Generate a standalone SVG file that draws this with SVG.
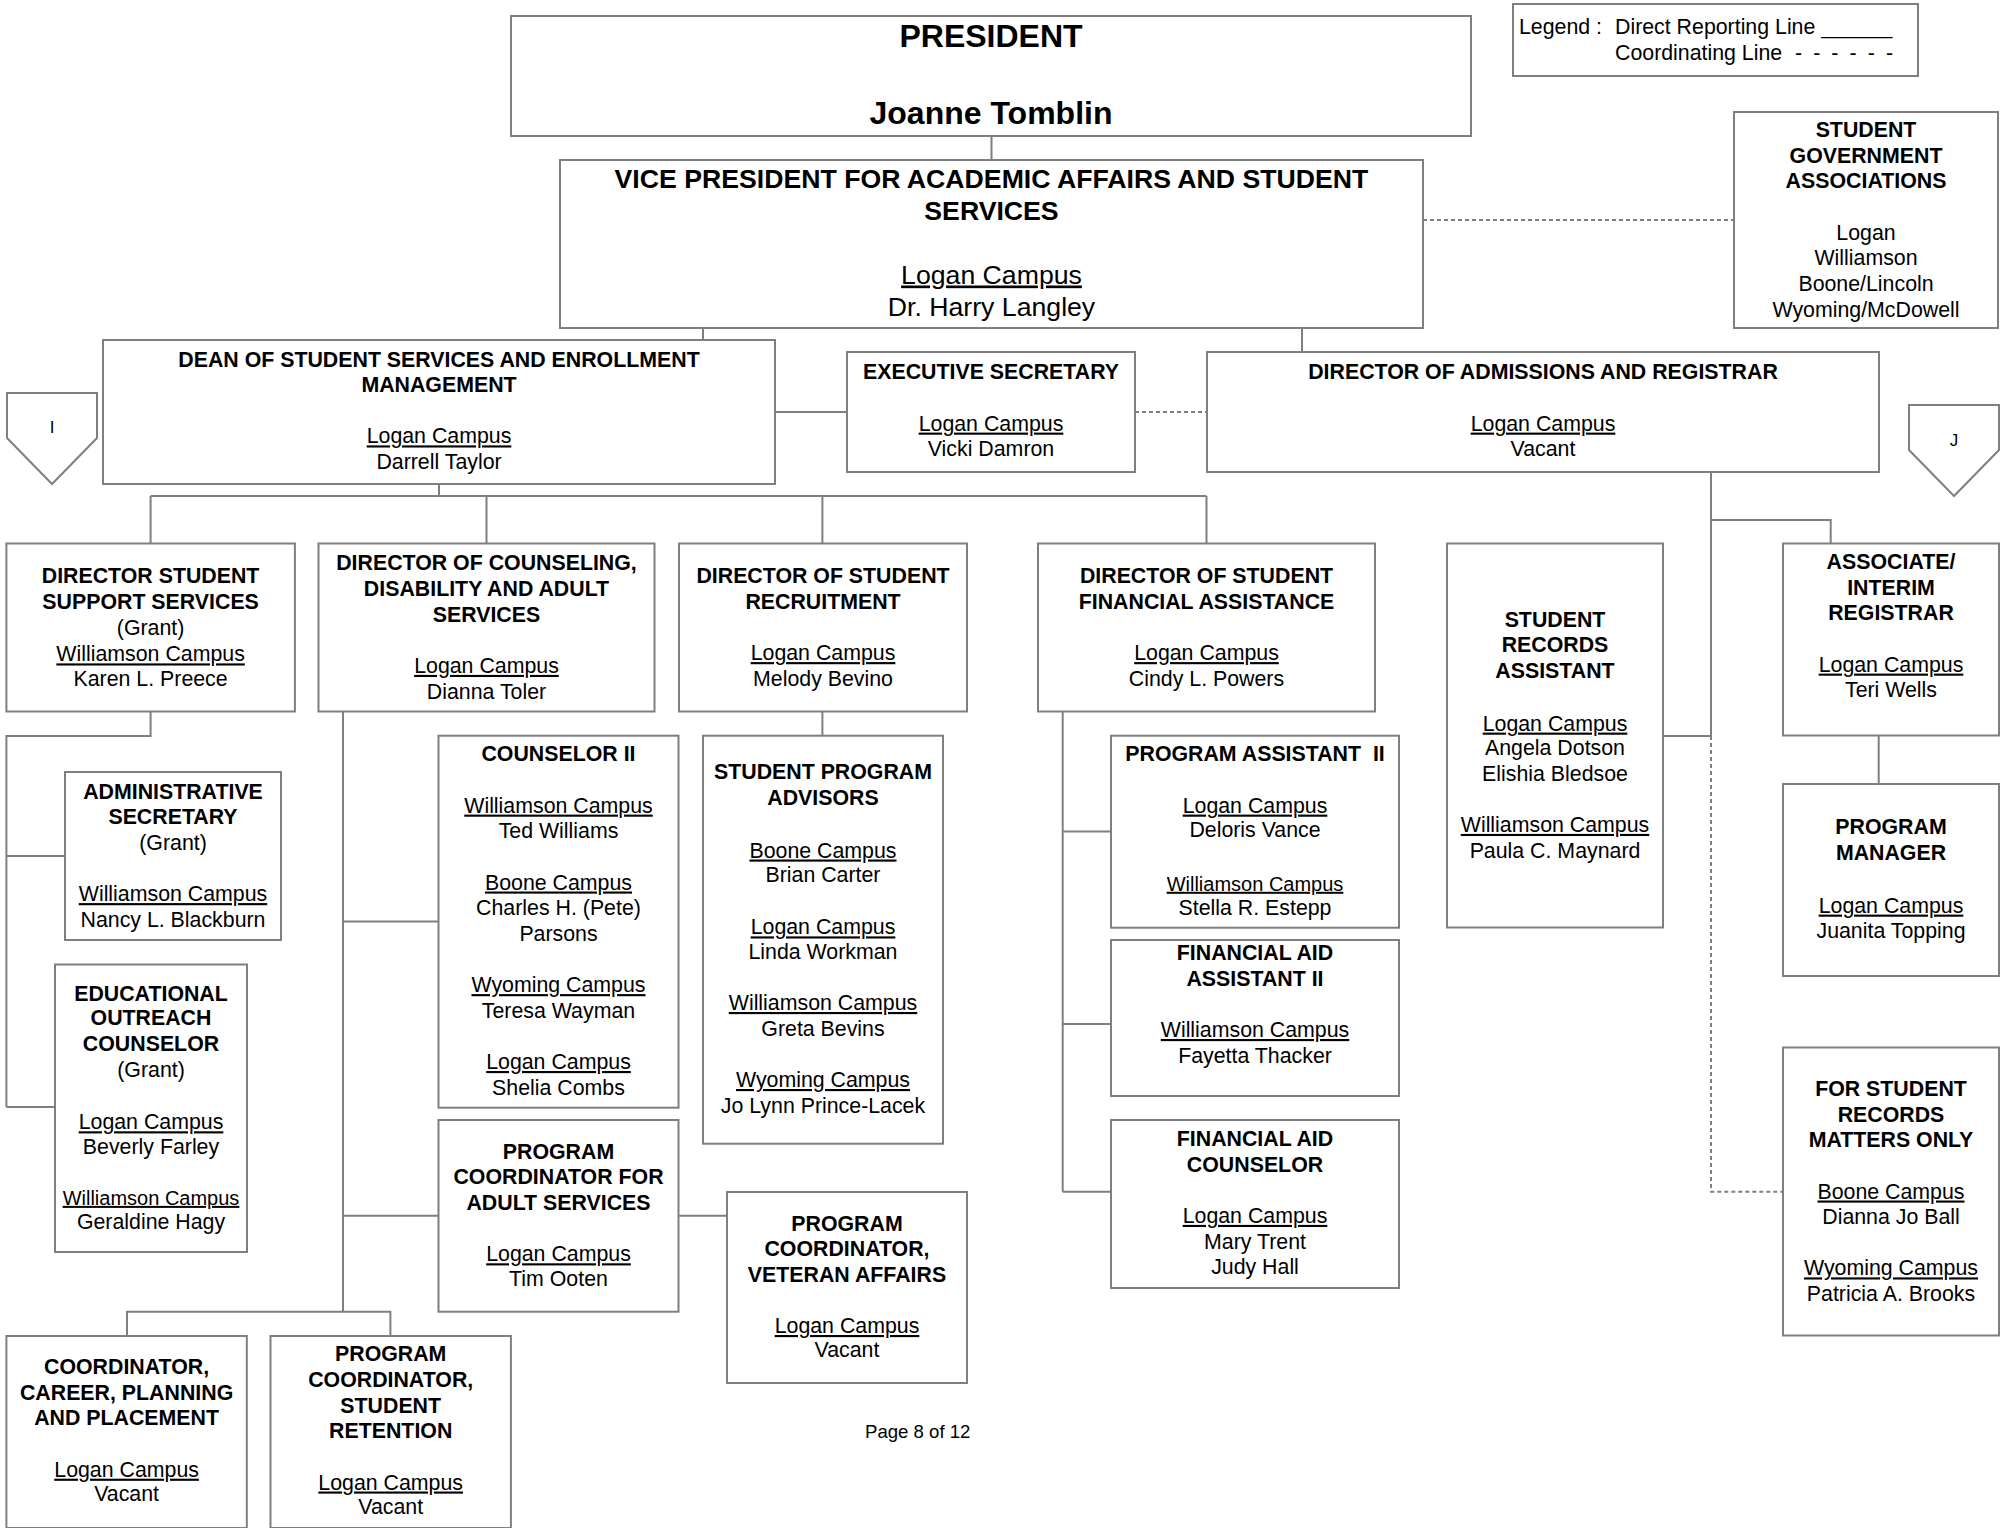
<svg xmlns="http://www.w3.org/2000/svg" width="2010" height="1528" viewBox="0 0 2010 1528">
<style>
.bx{fill:#fff;stroke:#7f7f7f;stroke-width:2}
.t{font-family:"Liberation Sans",Arial,sans-serif;font-size:21.33px;text-anchor:middle;fill:#000}
.h{font-weight:bold}
.u{text-decoration:underline}
.s{font-size:20px}
.c{stroke:#7f7f7f;stroke-width:2;fill:none}
.d{stroke-dasharray:4 3}
</style>
<rect width="2010" height="1528" fill="#fff"/>
<g id="connectors">
<path class="c" d="M991.5,136V160M703,328V340M1302,328V352M775,412H847M439,484V496M150.6,496H1206.5M150.6,496V543.5M486.5,496V543.5M822.4,496V543.5M1206.5,496V543.5"/>
<path class="c d" d="M1423,220H1734M1135,412H1207"/>
<path class="c" d="M150.6,711.5V736H6.4V1107M6.4,856H65M6.4,1107H55"/>
<path class="c" d="M343,711.5V1311.7M343,921.4H438.5M343,1215.7H438.5M127,1336V1311.7H390.4V1336M678.5,1215.7H727"/>
<path class="c" d="M822.4,711.5V735.7"/>
<path class="c" d="M1062.7,711.5V1191.7M1062.7,831.4H1111M1062.7,1024H1111M1062.7,1191.7H1111"/>
<path class="c" d="M1711,472V736M1711,520H1830.7V543.5M1663,736H1711M1878.7,735.5V784"/>
<path class="c d" d="M1711,736V1191.7H1783"/>
</g>
<g id="legend">
<rect class="bx" x="1513" y="4" width="405" height="72"/>
<text class="t" style="text-anchor:start" x="1519" y="34">Legend :</text>
<text class="t" style="text-anchor:start" x="1615" y="34">Direct Reporting Line ______</text>
<text class="t" style="text-anchor:start" x="1615" y="59.5">Coordinating Line</text>
<text class="t" style="text-anchor:start" x="1795" y="59.5" textLength="98" lengthAdjust="spacing">- - - - - -</text>
</g>
<g id="president">
<rect class="bx" x="511" y="16" width="960" height="120"/>
<text class="t h" style="font-size:32px" x="991" y="47.4">PRESIDENT</text>
<text class="t h" style="font-size:32px" x="991" y="124">Joanne Tomblin</text>
</g>
<g id="vice-president">
<rect class="bx" x="560" y="160" width="863" height="168"/>
<text class="t h" style="font-size:26.67px" x="991.5" y="187.7">VICE PRESIDENT FOR ACADEMIC AFFAIRS AND STUDENT</text>
<text class="t h" style="font-size:26.67px" x="991.5" y="219.7">SERVICES</text>
<text class="t u" style="font-size:26.67px" x="991.5" y="283.5">Logan Campus</text>
<text class="t" style="font-size:26.67px" x="991.5" y="315.5">Dr. Harry Langley</text>
</g>
<g id="student-government">
<rect class="bx" x="1734" y="112" width="264" height="216"/>
<text class="t h" x="1866" y="137.1">STUDENT</text>
<text class="t h" x="1866" y="162.7">GOVERNMENT</text>
<text class="t h" x="1866" y="188.4">ASSOCIATIONS</text>
<text class="t" x="1866" y="239.6">Logan</text>
<text class="t" x="1866" y="265.3">Williamson</text>
<text class="t" x="1866" y="290.9">Boone/Lincoln</text>
<text class="t" x="1866" y="316.5">Wyoming/McDowell</text>
</g>
<g id="dean">
<rect class="bx" x="103" y="340" width="672" height="144"/>
<text class="t h" x="439" y="366.6">DEAN OF STUDENT SERVICES AND ENROLLMENT</text>
<text class="t h" x="439" y="392.2">MANAGEMENT</text>
<text class="t u" x="439" y="443.4">Logan Campus</text>
<text class="t" x="439" y="469.1">Darrell Taylor</text>
</g>
<g id="executive-secretary">
<rect class="bx" x="847" y="352" width="288" height="120"/>
<text class="t h" x="991" y="379.4">EXECUTIVE SECRETARY</text>
<text class="t u" x="991" y="430.6">Logan Campus</text>
<text class="t" x="991" y="456.3">Vicki Damron</text>
</g>
<g id="director-admissions">
<rect class="bx" x="1207" y="352" width="672" height="120"/>
<text class="t h" x="1543" y="379.4">DIRECTOR OF ADMISSIONS AND REGISTRAR</text>
<text class="t u" x="1543" y="430.6">Logan Campus</text>
<text class="t" x="1543" y="456.3">Vacant</text>
</g>
<g id="connector-I">
<polygon class="bx" points="7,393 97,393 97,438 52,484 7,438"/>
<text class="t" style="font-size:17px" x="52" y="433">I</text>
</g>
<g id="connector-J">
<polygon class="bx" points="1909,405 1999,405 1999,450 1954,496 1909,450"/>
<text class="t" style="font-size:17px" x="1954" y="446">J</text>
</g>
<g id="director-student-support">
<rect class="bx" x="6.4" y="543.5" width="288.5" height="168"/>
<text class="t h" x="150.6" y="583.2">DIRECTOR STUDENT</text>
<text class="t h" x="150.6" y="608.8">SUPPORT SERVICES</text>
<text class="t" x="150.6" y="634.5">(Grant)</text>
<text class="t u" x="150.6" y="661.4">Williamson Campus</text>
<text class="t" x="150.6" y="685.7">Karen L. Preece</text>
</g>
<g id="director-counseling">
<rect class="bx" x="318.5" y="543.5" width="336" height="168"/>
<text class="t h" x="486.5" y="570.4">DIRECTOR OF COUNSELING,</text>
<text class="t h" x="486.5" y="596">DISABILITY AND ADULT</text>
<text class="t h" x="486.5" y="621.6">SERVICES</text>
<text class="t u" x="486.5" y="672.9">Logan Campus</text>
<text class="t" x="486.5" y="698.5">Dianna Toler</text>
</g>
<g id="director-recruitment">
<rect class="bx" x="679" y="543.5" width="288" height="168"/>
<text class="t h" x="823" y="583.2">DIRECTOR OF STUDENT</text>
<text class="t h" x="823" y="608.8">RECRUITMENT</text>
<text class="t u" x="823" y="660.1">Logan Campus</text>
<text class="t" x="823" y="685.7">Melody Bevino</text>
</g>
<g id="director-financial-assistance">
<rect class="bx" x="1038" y="543.5" width="337" height="168"/>
<text class="t h" x="1206.5" y="583.2">DIRECTOR OF STUDENT</text>
<text class="t h" x="1206.5" y="608.8">FINANCIAL ASSISTANCE</text>
<text class="t u" x="1206.5" y="660.1">Logan Campus</text>
<text class="t" x="1206.5" y="685.7">Cindy L. Powers</text>
</g>
<g id="student-records-assistant">
<rect class="bx" x="1447" y="543.5" width="216" height="384"/>
<text class="t h" x="1555" y="626.8">STUDENT</text>
<text class="t h" x="1555" y="652.4">RECORDS</text>
<text class="t h" x="1555" y="678">ASSISTANT</text>
<text class="t u" x="1555" y="730.6">Logan Campus</text>
<text class="t" x="1555" y="755">Angela Dotson</text>
<text class="t" x="1555" y="780.6">Elishia Bledsoe</text>
<text class="t u" x="1555" y="831.9">Williamson Campus</text>
<text class="t" x="1555" y="857.5">Paula C. Maynard</text>
</g>
<g id="associate-registrar">
<rect class="bx" x="1783" y="543.5" width="216" height="192"/>
<text class="t h" x="1891" y="569.1">ASSOCIATE/</text>
<text class="t h" x="1891" y="594.7">INTERIM</text>
<text class="t h" x="1891" y="620.3">REGISTRAR</text>
<text class="t u" x="1891" y="671.6">Logan Campus</text>
<text class="t" x="1891" y="697.3">Teri Wells</text>
</g>
<g id="administrative-secretary">
<rect class="bx" x="65" y="772" width="216" height="168"/>
<text class="t h" x="173" y="798.5">ADMINISTRATIVE</text>
<text class="t h" x="173" y="824.2">SECRETARY</text>
<text class="t" x="173" y="849.8">(Grant)</text>
<text class="t u" x="173" y="901.1">Williamson Campus</text>
<text class="t" x="173" y="926.7">Nancy L. Blackburn</text>
</g>
<g id="educational-outreach-counselor">
<rect class="bx" x="55" y="964.5" width="192" height="287.5"/>
<text class="t h" x="151" y="1001">EDUCATIONAL</text>
<text class="t h" x="151" y="1025.4">OUTREACH</text>
<text class="t h" x="151" y="1051">COUNSELOR</text>
<text class="t" x="151" y="1076.7">(Grant)</text>
<text class="t u" x="151" y="1129.3">Logan Campus</text>
<text class="t" x="151" y="1153.6">Beverly Farley</text>
<text class="t u s" x="151" y="1204.9">Williamson Campus</text>
<text class="t" x="151" y="1229.3">Geraldine Hagy</text>
</g>
<g id="counselor-ii">
<rect class="bx" x="438.5" y="735.7" width="240" height="372"/>
<text class="t h" x="558.5" y="761.4">COUNSELOR II</text>
<text class="t u" x="558.5" y="812.6">Williamson Campus</text>
<text class="t" x="558.5" y="838.3">Ted Williams</text>
<text class="t u" x="558.5" y="889.5">Boone Campus</text>
<text class="t" x="558.5" y="915.2">Charles H. (Pete)</text>
<text class="t" x="558.5" y="940.8">Parsons</text>
<text class="t u" x="558.5" y="992.1">Wyoming Campus</text>
<text class="t" x="558.5" y="1017.7">Teresa Wayman</text>
<text class="t u" x="558.5" y="1069">Logan Campus</text>
<text class="t" x="558.5" y="1094.7">Shelia Combs</text>
</g>
<g id="student-program-advisors">
<rect class="bx" x="703" y="735.7" width="240" height="408"/>
<text class="t h" x="823" y="779.3">STUDENT PROGRAM</text>
<text class="t h" x="823" y="805">ADVISORS</text>
<text class="t u" x="823" y="857.5">Boone Campus</text>
<text class="t" x="823" y="881.9">Brian Carter</text>
<text class="t u" x="823" y="934.4">Logan Campus</text>
<text class="t" x="823" y="958.8">Linda Workman</text>
<text class="t u" x="823" y="1010">Williamson Campus</text>
<text class="t" x="823" y="1035.7">Greta Bevins</text>
<text class="t u" x="823" y="1087">Wyoming Campus</text>
<text class="t" x="823" y="1112.6">Jo Lynn Prince-Lacek</text>
</g>
<g id="program-assistant-ii">
<rect class="bx" x="1111" y="735.7" width="288" height="192"/>
<text class="t h" x="1255" y="761.4">PROGRAM ASSISTANT&#160; II</text>
<text class="t u" x="1255" y="812.6">Logan Campus</text>
<text class="t" x="1255" y="837">Deloris Vance</text>
<text class="t u s" x="1255" y="890.8">Williamson Campus</text>
<text class="t" x="1255" y="915.2">Stella R. Estepp</text>
</g>
<g id="financial-aid-assistant-ii">
<rect class="bx" x="1111" y="940" width="288" height="156"/>
<text class="t h" x="1255" y="960">FINANCIAL AID</text>
<text class="t h" x="1255" y="985.7">ASSISTANT II</text>
<text class="t u" x="1255" y="1037">Williamson Campus</text>
<text class="t" x="1255" y="1062.6">Fayetta Thacker</text>
</g>
<g id="financial-aid-counselor">
<rect class="bx" x="1111" y="1120" width="288" height="168"/>
<text class="t h" x="1255" y="1146">FINANCIAL AID</text>
<text class="t h" x="1255" y="1171.6">COUNSELOR</text>
<text class="t u" x="1255" y="1222.9">Logan Campus</text>
<text class="t" x="1255" y="1248.5">Mary Trent</text>
<text class="t" x="1255" y="1274.1">Judy Hall</text>
</g>
<g id="program-manager">
<rect class="bx" x="1783" y="784" width="216" height="192"/>
<text class="t h" x="1891" y="834.4">PROGRAM</text>
<text class="t h" x="1891" y="860">MANAGER</text>
<text class="t u" x="1891" y="912.6">Logan Campus</text>
<text class="t" x="1891" y="938.3">Juanita Topping</text>
</g>
<g id="student-records-matters">
<rect class="bx" x="1783" y="1047.5" width="216" height="288"/>
<text class="t h" x="1891" y="1095.9">FOR STUDENT</text>
<text class="t h" x="1891" y="1121.6">RECORDS</text>
<text class="t h" x="1891" y="1147.2">MATTERS ONLY</text>
<text class="t u" x="1891" y="1198.5">Boone Campus</text>
<text class="t" x="1891" y="1224.1">Dianna Jo Ball</text>
<text class="t u" x="1891" y="1275.4">Wyoming Campus</text>
<text class="t" x="1891" y="1301">Patricia A. Brooks</text>
</g>
<g id="program-coordinator-adult">
<rect class="bx" x="438.5" y="1120" width="240" height="191.7"/>
<text class="t h" x="558.5" y="1158.7">PROGRAM</text>
<text class="t h" x="558.5" y="1184.4">COORDINATOR FOR</text>
<text class="t h" x="558.5" y="1210">ADULT SERVICES</text>
<text class="t u" x="558.5" y="1261.3">Logan Campus</text>
<text class="t" x="558.5" y="1285.7">Tim Ooten</text>
</g>
<g id="program-coordinator-veteran">
<rect class="bx" x="727" y="1192" width="240" height="191"/>
<text class="t h" x="847" y="1230.5">PROGRAM</text>
<text class="t h" x="847" y="1256.2">COORDINATOR,</text>
<text class="t h" x="847" y="1281.8">VETERAN AFFAIRS</text>
<text class="t u" x="847" y="1333">Logan Campus</text>
<text class="t" x="847" y="1357.4">Vacant</text>
</g>
<g id="coordinator-career">
<rect class="bx" x="6.4" y="1336" width="240.4" height="192"/>
<text class="t h" x="126.6" y="1374.1">COORDINATOR,</text>
<text class="t h" x="126.6" y="1399.8">CAREER, PLANNING</text>
<text class="t h" x="126.6" y="1425.4">AND PLACEMENT</text>
<text class="t u" x="126.6" y="1476.7">Logan Campus</text>
<text class="t" x="126.6" y="1501">Vacant</text>
</g>
<g id="program-coordinator-retention">
<rect class="bx" x="270.5" y="1336" width="240.4" height="192"/>
<text class="t h" x="390.7" y="1361.3">PROGRAM</text>
<text class="t h" x="390.7" y="1387">COORDINATOR,</text>
<text class="t h" x="390.7" y="1412.6">STUDENT</text>
<text class="t h" x="390.7" y="1438.2">RETENTION</text>
<text class="t u" x="390.7" y="1489.5">Logan Campus</text>
<text class="t" x="390.7" y="1513.8">Vacant</text>
</g>
<text class="t" style="font-size:18.6px;text-anchor:start" x="865" y="1438">Page 8 of 12</text>
</svg>
